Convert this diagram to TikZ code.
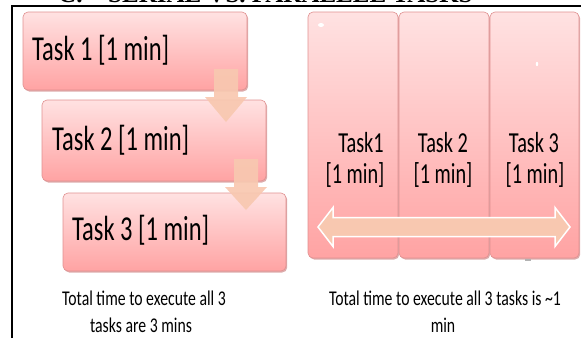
\documentclass[tikz,border=0pt]{standalone}
\usepackage{fontspec}
\setmainfont{Carlito}
\newfontfamily\taskfont[FakeStretch=0.70]{Carlito}
\newfontfamily\notefont[FakeStretch=0.75]{Carlito}
\newfontfamily\headfont{Liberation Serif}
\definecolor{boxtop}{HTML}{FFE2E2}
\definecolor{boxbot}{HTML}{FFA3A3}
\definecolor{boxline}{HTML}{E09090}
\definecolor{boxshade}{HTML}{C06868}
\definecolor{peach}{HTML}{F8C8B0}

\begin{document}
\begin{tikzpicture}[x=1pt,y=-1pt,
  taskbox/.style={draw=boxline, line width=0.6pt, rounded corners=5pt,
    top color=boxtop, bottom color=boxbot, inner sep=0pt},
  boxshadow/.style={fill=boxshade, opacity=0.55, rounded corners=5pt,
    draw=none, inner sep=0pt},
  serialtext/.style={inner sep=0pt, anchor=base west,
    font=\taskfont\fontsize{35}{35}\selectfont},
  paralleltext/.style={inner sep=0pt, anchor=base,
    font=\taskfont\fontsize{29}{29}\selectfont},
  notetext/.style={inner sep=0pt, anchor=base,
    font=\notefont\fontsize{21}{21}\selectfont},
  blockarrow/.style={fill=peach, opacity=0.92, draw=none},
  spanarrow/.style={fill=peach, draw=white, line width=1.5pt, line join=miter},
  speck/.style={fill=white, draw=none}
]
\useasboundingbox (0,0) rectangle (581,338);
\clip (0,0) rectangle (581,338);

% section heading (only its lower edge falls inside the page)
\node[inner sep=0pt, anchor=base west, font=\headfont\bfseries\fontsize{25}{25}\selectfont]
  (headC) at (58,2.7) {C.};
\node[inner sep=0pt, anchor=base west, font=\headfont\bfseries\fontsize{25}{25}\selectfont]
  (headT) at (108,2.7) {SERIAL VS. PARALLEL TASKS};

% frame
\draw[line width=2pt] (12,338) -- (12,6) -- (581,6);

% ---- serial tasks ----
\node[boxshadow, minimum width=224pt, minimum height=78pt] (s1) at (136.2,52.5) {};
\node[taskbox, minimum width=224pt, minimum height=78pt] (t1) at (135,51) {};
\node[boxshadow, minimum width=224pt, minimum height=81pt] (s2) at (155.2,142) {};
\node[taskbox, minimum width=224pt, minimum height=81pt] (t2) at (154,140.5) {};
\node[boxshadow, minimum width=223pt, minimum height=78pt] (s3) at (175.7,233.5) {};
\node[taskbox, minimum width=223pt, minimum height=78pt] (t3) at (174.5,232) {};

\node[serialtext] (l1) at (32,60) {Task 1 [1 min]};
\node[serialtext] (l2) at (52,150) {Task 2 [1 min]};
\node[serialtext] (l3) at (72,240) {Task 3 [1 min]};

% down arrows between the serial tasks
\fill[blockarrow] (214,69) -- (238,69) -- (238,97) -- (247,97) -- (226,122)
  -- (205,97) -- (214,97) -- cycle;
\fill[blockarrow] (234,159) -- (258,159) -- (258,187) -- (267,187) -- (246,210)
  -- (225,187) -- (234,187) -- cycle;

% ---- parallel tasks ----
\node[boxshadow, minimum width=90pt, minimum height=246pt] (pa) at (354.2,136.5) {};
\node[taskbox, minimum width=90pt, minimum height=246pt] (p1) at (353,135) {};
\node[boxshadow, minimum width=90pt, minimum height=246pt] (pb) at (445.2,136.5) {};
\node[taskbox, minimum width=90pt, minimum height=246pt] (p2) at (444,135) {};
\node[boxshadow, minimum width=89pt, minimum height=246pt] (pc) at (535.7,136.5) {};
\node[taskbox, minimum width=89pt, minimum height=246pt] (p3) at (534.5,135) {};

\node[paralleltext] (q1a) at (361,152) {Task1};
\node[paralleltext] (q1b) at (355,183) {[1 min]};
\node[paralleltext] (q2a) at (443,152) {Task 2};
\node[paralleltext] (q2b) at (443,183) {[1 min]};
\node[paralleltext] (q3a) at (534,152) {Task 3};
\node[paralleltext] (q3b) at (535,183) {[1 min]};

% small specks on the parallel boxes
\fill[speck] (321,25) ellipse (3pt and 2pt);
\fill[speck] (537,64) ellipse (1.2pt and 2.2pt);
\fill[gray!60] (525,258.5) rectangle (531,260.5);

% double-headed arrow spanning the parallel tasks
\draw[spanarrow] (318,227) -- (333,207.5) -- (333,217.5) -- (555,217.5)
  -- (555,207.5) -- (570,227) -- (555,246.5) -- (555,236.5) -- (333,236.5)
  -- (333,246.5) -- cycle;

% captions
\node[notetext] (cl1) at (144,305) {Total time to execute all 3};
\node[notetext] (cl2) at (141,332) {tasks are 3 mins};
\node[notetext] (cr1) at (445,305) {Total time to execute all 3 tasks is \textasciitilde 1};
\node[notetext] (cr2) at (443,332) {min};
\end{tikzpicture}
\end{document}
